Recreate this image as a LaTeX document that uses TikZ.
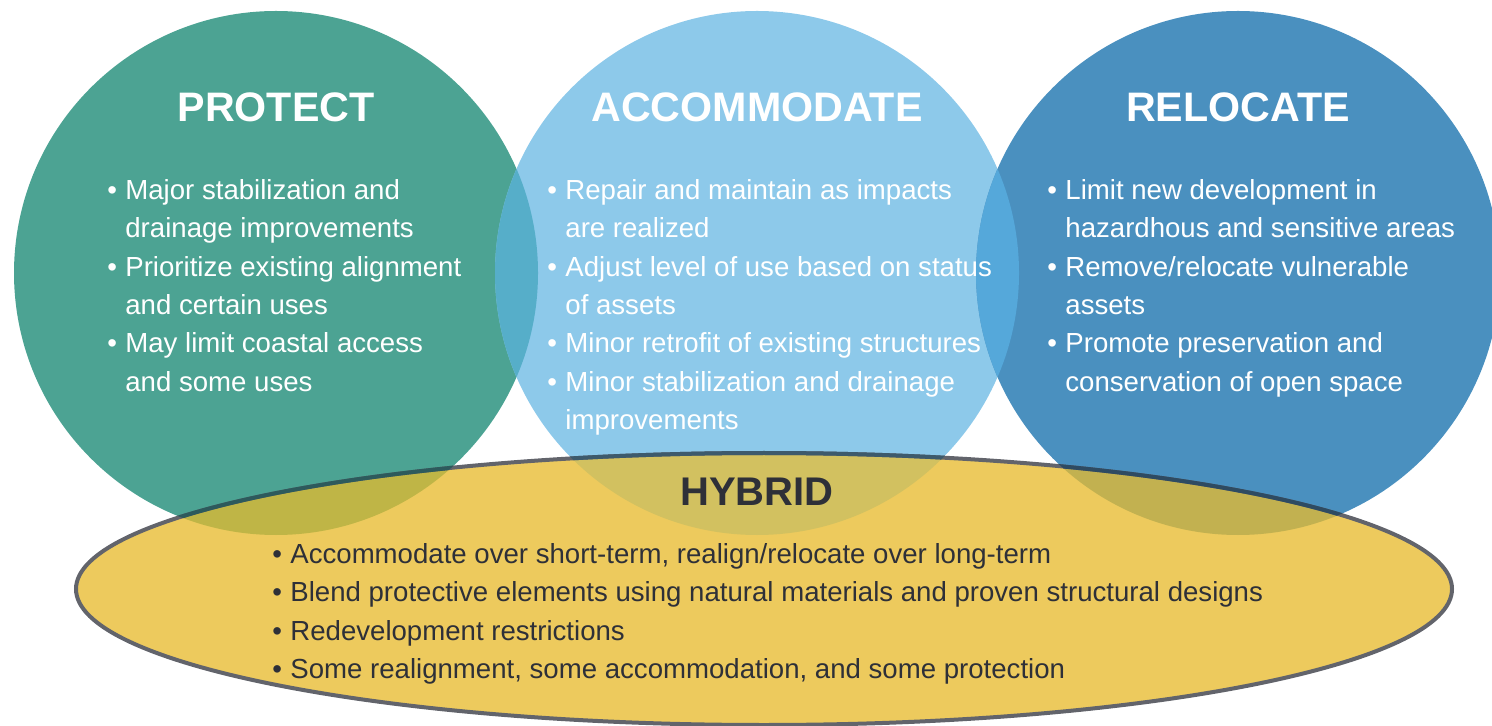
\documentclass[tikz,border=0pt]{standalone}
\usepackage{fontspec}
\setmainfont{Liberation Sans}
\usetikzlibrary{positioning}
\definecolor{protectg}{HTML}{4CA393}
\definecolor{accomb}{HTML}{8DC9EA}
\definecolor{relocb}{HTML}{4A90BF}
\definecolor{paovl}{HTML}{56AEC9}
\definecolor{arovl}{HTML}{55A8DA}
\definecolor{hybridy}{HTML}{EDCA5D}
\definecolor{hpovl}{HTML}{BFB546}
\definecolor{haovl}{HTML}{D2C160}
\definecolor{hrovl}{HTML}{C2B150}
\definecolor{rimgray}{HTML}{62646B}
\definecolor{rimp}{HTML}{2D5A5C}
\definecolor{rima}{HTML}{3D5A6C}
\definecolor{rimr}{HTML}{2E4B62}
\definecolor{inkdark}{HTML}{2E3038}
\newcommand{\circP}{(276,273) circle [radius=131pt]}
\newcommand{\circA}{(757,273) circle [radius=131pt]}
\newcommand{\circR}{(1238,273) circle [radius=131pt]}
\newcommand{\ovalH}{(764,589) ellipse [x radius=344pt, y radius=68pt]}
\newcommand{\bul}{\strut\makebox[9pt][l]{\textbullet}}
\newcommand{\ind}{\hspace*{9pt}}

\begin{document}
\begin{tikzpicture}[x=0.5pt,y=-0.5pt,
title/.style={font=\fontsize{20.6}{24}\selectfont\bfseries, text=white, inner sep=0pt, anchor=base},
bullets/.style={font=\fontsize{13.8}{19.2}\selectfont, text=white, align=left, inner sep=0pt, anchor=north west},
]

\useasboundingbox (0,0) rectangle (1492,726);

% the three circles
\fill[protectg] \circP;
\fill[accomb] \circA;
\fill[relocb] \circR;
\begin{scope}
\clip \circP;
\fill[paovl] \circA;
\end{scope}
\begin{scope}
\clip \circR;
\fill[arovl] \circA;
\end{scope}

% hybrid oval on top
\fill[hybridy] \ovalH;
\begin{scope}
\clip \circP;
\fill[hpovl] \ovalH;
\end{scope}
\begin{scope}
\clip \circA;
\fill[haovl] \ovalH;
\end{scope}
\begin{scope}
\clip \circR;
\fill[hrovl] \ovalH;
\end{scope}
\draw[rimgray, line width=2pt] \ovalH;
\begin{scope}
\clip \circP;
\draw[rimp, line width=2pt] \ovalH;
\end{scope}
\begin{scope}
\clip \circA;
\draw[rima, line width=2pt] \ovalH;
\end{scope}
\begin{scope}
\clip \circR;
\draw[rimr, line width=2pt] \ovalH;
\end{scope}

% titles
\node[title] (protect) at (276,122) {PROTECT};
\node[title] (accommodate) at (757,122) {ACCOMMODATE};
\node[title] (relocate) at (1238,122) {RELOCATE};
\node[title, text=inkdark, font=\fontsize{20}{24}\selectfont\bfseries] (hybrid) at (757,505) {HYBRID};

% lists
\node[bullets] (protectlist) at (107,172) {%
\bul Major stabilization and\\
\ind drainage improvements\\
\bul Prioritize existing alignment\\
\ind and certain uses\\
\bul May limit coastal access\\
\ind and some uses};

\node[bullets] (accomlist) at (547,172) {%
\bul Repair and maintain as impacts\\
\ind are realized\\
\bul Adjust level of use based on status\\
\ind of assets\\
\bul Minor retrofit of existing structures\\
\bul Minor stabilization and drainage\\
\ind improvements};

\node[bullets] (reloclist) at (1047,172) {%
\bul Limit new development in\\
\ind hazardhous and sensitive areas\\
\bul Remove/relocate vulnerable\\
\ind assets\\
\bul Promote preservation and\\
\ind conservation of open space};

\node[bullets, text=inkdark, font=\fontsize{13.8}{19.25}\selectfont] (hybridlist) at (272,536) {%
\bul Accommodate over short-term, realign/relocate over long-term\\
\bul Blend protective elements using natural materials and proven structural designs\\
\bul Redevelopment restrictions\\
\bul Some realignment, some accommodation, and some protection};

\end{tikzpicture}
\end{document}
